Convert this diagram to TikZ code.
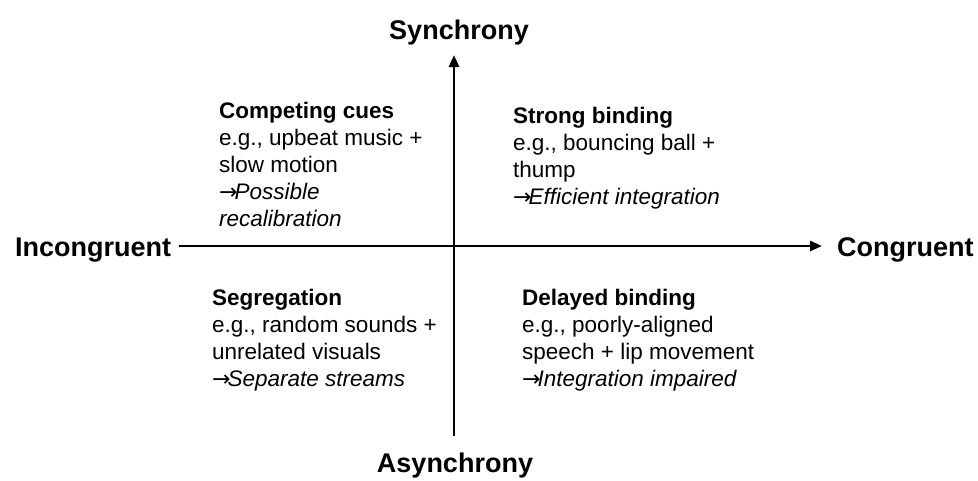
\documentclass[tikz,border=0pt]{standalone}
\usepackage{fontspec}
\setmainfont{Liberation Sans}
\newfontfamily\arrowfont{DejaVu Sans}
\newcommand{\myarrow}{{\arrowfont\fontsize{22}{27}\selectfont\itshape →}\kern-3pt}
\usetikzlibrary{arrows.meta}
\begin{document}
\begin{tikzpicture}[x=1pt,y=-1pt,
  axislabel/.style={font=\fontsize{27}{32}\selectfont\bfseries, inner sep=0pt},
  quad/.style={font=\fontsize{22.5}{27}\selectfont, align=left, inner sep=0pt, anchor=base west},
  axis/.style={line width=2.7pt, -{Triangle[length=12pt,width=10pt]}}]
\useasboundingbox (0,0) rectangle (978,480);
% axis ends
\coordinate (vbot) at (454,436);
\coordinate (vtop) at (454,55);
\coordinate (hleft) at (179,246);
\coordinate (hright) at (822,246);
\draw[axis] (vbot) -- (vtop);
\draw[axis] (hleft) -- (hright);
% axis labels
\node[axislabel, anchor=base] (sync) at (459,39) {Synchrony};
\node[axislabel, anchor=base] (async) at (455,472) {Asynchrony};
\node[axislabel, anchor=base west] (incong) at (15,256) {Incongruent};
\node[axislabel, anchor=base west] (cong) at (837,256) {Congruent};
% quadrants (base anchor = last line's baseline)
\node[quad] (q1) at (219,226) {\textbf{Competing cues}\\e.g., upbeat music +\\slow motion\\\myarrow\textit{Possible}\\\textit{recalibration}};
\node[quad] (q2) at (513,204) {\textbf{Strong binding}\\e.g., bouncing ball +\\thump\\\myarrow\textit{Efficient integration}};
\node[quad] (q3) at (212,386) {\textbf{Segregation}\\e.g., random sounds +\\unrelated visuals\\\myarrow\textit{Separate streams}};
\node[quad] (q4) at (522,386) {\textbf{Delayed binding}\\e.g., poorly-aligned\\speech + lip movement\\\myarrow\textit{Integration impaired}};
\end{tikzpicture}
\end{document}
